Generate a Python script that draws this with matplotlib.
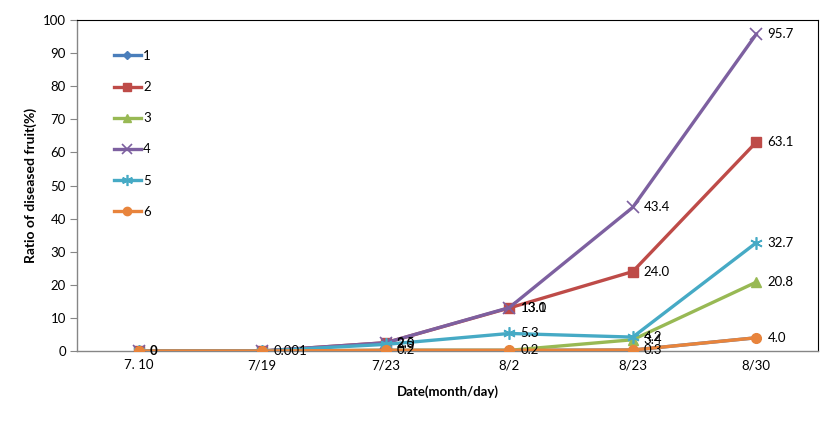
import matplotlib
matplotlib.use("Agg")
import matplotlib.pyplot as plt
from matplotlib.lines import Line2D

plt.rcParams['font.family'] = ['Lato', 'DejaVu Sans']

categories = ["7. 10", "7/19", "7/23", "8/2", "8/23", "8/30"]
series_names = ["1", "2", "3", "4", "5", "6"]

s1 = [0, 0.001, 0.2, 0.2, 0.3, 4.0]
s2 = [0, 0.001, 2.5, 13.0, 24.0, 63.1]
s3 = [0, 0.001, 0.2, 0.2, 3.4, 20.8]
s4 = [0, 0.001, 2.5, 13.1, 43.4, 95.7]
s5 = [0, 0.001, 2.0, 5.3, 4.2, 32.7]
s6 = [0, 0.001, 0.2, 0.2, 0.3, 4.0]

l1 = ["0", "0.001", "0.2", "0.2", "0.3", "4.0"]
l2 = ["0", "0.001", "2.5", "13.0", "24.0", "63.1"]
l3 = ["0", "0.001", "0.2", "0.2", "3.4", "20.8"]
l4 = ["0", "0.001", "2.5", "13.1", "43.4", "95.7"]
l5 = ["0", "0.001", "2.0", "5.3", "4.2", "32.7"]
l6 = ["0", "0.001", "0.2", "0.2", "0.3", "4.0"]

values = [s1, s2, s3, s4, s5, s6]
labels = [l1, l2, l3, l4, l5, l6]
colors = ["#4A7EBB", "#BE4B48", "#98B954", "#7D60A0", "#46AAC5", "#E8843C"]
markers = ["D", "s", "^", "x", (6, 2, 0), "o"]
msizes = [5, 7, 7, 8, 9, 7]

fig = plt.figure(figsize=(8.32, 4.30), dpi=100)
ax = fig.add_axes([77/832, 1 - 351/430, (818-77)/832, (351-20)/430])

x = [i + 0.5 for i in range(len(categories))]
handles = []
drawn = set()
for vals, labs, c, m, ms, name in zip(values, labels, colors, markers, msizes, series_names):
    mew = 1.2 if m in ("x", (6, 2, 0)) else 1
    ax.plot(x, vals, color=c, lw=2.4, marker=m, ms=ms, mec=c, mfc=c, mew=mew, zorder=3)
    for xi, yi, t in zip(x, vals, labs):
        key = (xi, round(yi, 1), t)
        if key in drawn:
            continue
        drawn.add(key)
        ax.annotate(t, (xi, yi), xytext=(8, 0), textcoords='offset points',
                    va='center', ha='left', fontsize=9.5, color='black', zorder=4,
                    fontweight='bold' if t == "0" else 'normal')
    handles.append(Line2D([0], [0], color=c, lw=2.4, marker=m, ms=ms-1, mec=c, mfc=c, mew=mew))

ax.set_xlim(0, 6)
ax.set_ylim(0, 100)
ax.set_yticks(range(0, 101, 10))
ax.set_xticks(x)
ax.set_xticklabels(categories, fontsize=9.5)
ax.tick_params(axis='y', labelsize=9.5, length=5, color='#868686', pad=3)
ax.tick_params(axis='x', length=0, pad=6)

for s in ['left', 'bottom']:
    ax.spines[s].set_color('#868686')
    ax.spines[s].set_linewidth(1)
for s in ['top', 'right']:
    ax.spines[s].set_color('#000000')
    ax.spines[s].set_linewidth(0.8)

ax.set_xlabel("Date(month/day)", fontsize=9.5, fontweight='bold', labelpad=10)
ax.set_ylabel("Ratio of diseased fruit(%)", fontsize=10, fontweight='bold', labelpad=4)

leg = ax.legend(handles, series_names, loc='upper left', bbox_to_anchor=(0.043, 0.925),
                frameon=False, fontsize=9.5, handlelength=2.0, handletextpad=0.2,
                labelspacing=1.45, borderaxespad=0)

fig.savefig("out.png", dpi=100)
